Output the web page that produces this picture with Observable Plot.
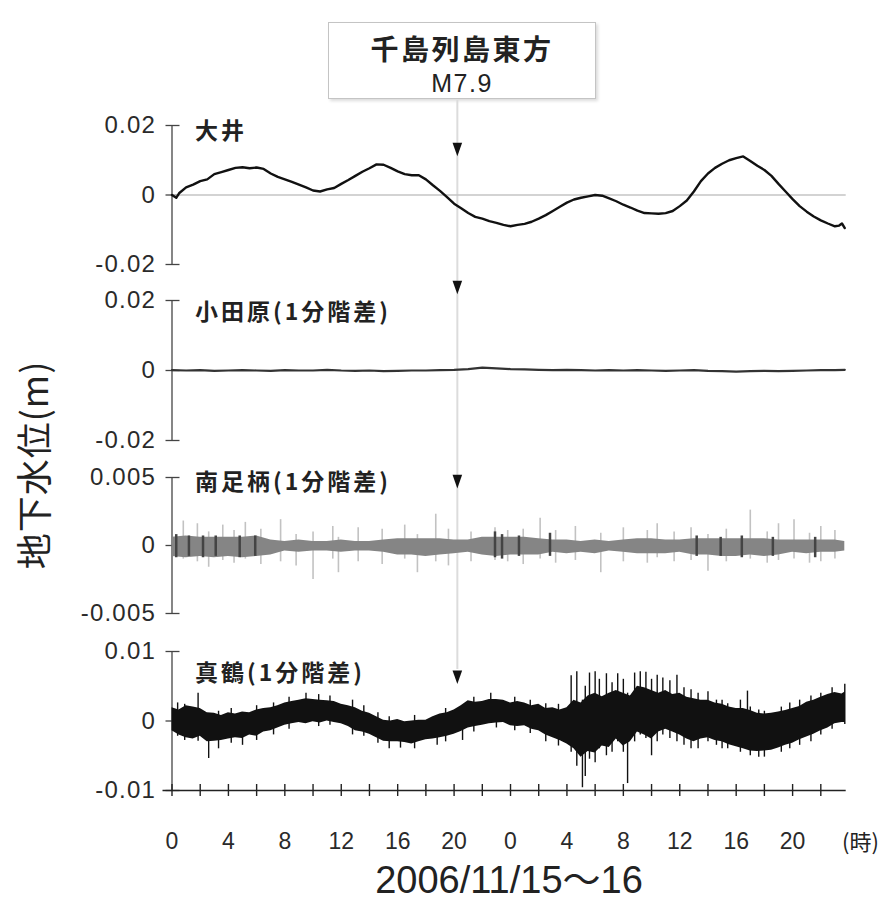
<!DOCTYPE html>
<html><head><meta charset="utf-8">
<script src="https://cdn.jsdelivr.net/npm/d3@7"></script>
<script src="https://cdn.jsdelivr.net/npm/@observablehq/plot@0.6"></script>
<style>
body{margin:0;background:#fff;}
#wrap{position:relative;width:889px;height:902px;overflow:hidden;font-family:'Liberation Sans','Noto Sans CJK JP',sans-serif;color:#222;}
.abs{position:absolute;left:0;}
g[aria-label="text"] text{letter-spacing:3px;}
g[aria-label="y-axis tick label"] text{letter-spacing:1.2px;}
</style></head><body>
<div id="wrap">
  <div id="box" style="position:absolute;left:328px;top:22px;width:266px;height:75px;border:1.5px solid #c4c4c4;box-shadow:2px 2px 3px #dcdcdc;background:#fff;">
    <div style="position:absolute;left:0;right:0;top:9px;text-align:center;font-family:'Noto Sans CJK JP',sans-serif;font-weight:bold;font-size:28px;line-height:32px;letter-spacing:2.5px;">千島列島東方</div>
    <div style="position:absolute;left:0;right:0;top:45px;text-align:center;font-family:'Liberation Sans',sans-serif;font-size:25px;line-height:30px;letter-spacing:1.5px;">M7.9</div>
  </div>
  <div id="p1" class="abs" style="top:100px"></div>
  <div id="p2" class="abs" style="top:280px"></div>
  <div id="p3" class="abs" style="top:458px"></div>
  <div id="p4" class="abs" style="top:633px"></div>
  <div id="ytitle" style="position:absolute;left:32px;top:465px;transform:translate(-50%,-50%) rotate(-90deg);white-space:nowrap;font-family:'Noto Sans CJK JP',sans-serif;font-size:36px;line-height:40px;letter-spacing:1px;">地下水位(m)</div>
  <div id="hourlabel" style="position:absolute;left:842px;top:826px;white-space:nowrap;font-family:'Noto Sans CJK JP',sans-serif;font-size:22px;line-height:28px;">(時)</div>
  <div id="datelabel" style="position:absolute;left:509px;top:880px;transform:translate(-50%,-50%);white-space:nowrap;font-family:'Liberation Sans','Noto Sans CJK JP',sans-serif;font-size:38px;line-height:38px;">2006/11/15〜16</div>
</div>
<script>
// ---------- data ----------
const eventHour = 20.23; // 2006/11/15 20:14
const xDomain = [0, 47.8];
const xLabelTicks = [0,4,8,12,16,20,24,28,32,36,40,44];
const xMinorTicks = [0,2,4,6,8,10,12,14,16,18,20,22,24,26,28,30,32,34,36,38,40,42,44,46];

const panelNames = ["大井", "小田原(1分階差)", "南足柄(1分階差)", "真鶴(1分階差)"];

// 大井
const oiHours = [0,0.3,0.5,1,1.5,2,2.5,3,3.5,4,4.5,5,5.5,6,6.5,7,7.5,8,8.5,9,9.5,10,10.5,11,11.5,12,12.5,13,13.5,14,14.5,15,15.5,16,16.5,17,17.5,18,18.5,19,19.5,20,20.5,21,21.5,22,22.5,23,23.5,24,24.5,25,25.5,26,26.5,27,27.5,28,28.5,29,29.5,30,30.5,31,31.5,32,32.5,33,33.5,34,34.5,35,35.5,36,36.5,37,37.5,38,38.5,39,39.5,40,40.5,41,41.5,42,42.5,43,43.5,44,44.5,45,45.5,46,46.5,47,47.3,47.5,47.7];
const oiLevel = [0.0000,-0.0008,0.0005,0.0022,0.0030,0.0040,0.0045,0.0060,0.0066,0.0072,0.0078,0.0080,0.0077,0.0079,0.0075,0.0062,0.0052,0.0045,0.0038,0.0030,0.0022,0.0013,0.0010,0.0016,0.0020,0.0032,0.0043,0.0055,0.0067,0.0077,0.0088,0.0087,0.0078,0.0068,0.0060,0.0057,0.0057,0.0045,0.0028,0.0012,-0.0006,-0.0025,-0.0038,-0.0052,-0.0063,-0.0068,-0.0075,-0.0080,-0.0086,-0.0090,-0.0086,-0.0083,-0.0077,-0.0068,-0.0058,-0.0046,-0.0034,-0.0022,-0.0013,-0.0008,-0.0004,0.0000,-0.0002,-0.0010,-0.0018,-0.0028,-0.0036,-0.0045,-0.0052,-0.0053,-0.0054,-0.0052,-0.0046,-0.0032,-0.0016,0.0010,0.0040,0.0062,0.0078,0.0090,0.0100,0.0106,0.0111,0.0098,0.0084,0.0072,0.0055,0.0032,0.0010,-0.0012,-0.0032,-0.0048,-0.0062,-0.0073,-0.0082,-0.0090,-0.0088,-0.0082,-0.0095];

// 小田原 (1分階差)
const odawaraHours = [0,1,2,3,4,5,6,7,8,9,10,11,12,13,14,15,16,17,18,19,20,21,22,23,24,25,26,27,28,29,30,31,32,33,34,35,36,37,38,39,40,41,42,43,44,45,46,47,47.7];
const odawaraLevel = [0.0001,0.0000,0.0001,-0.0001,0.0000,0.0001,0.0000,-0.0001,0.0001,0.0000,0.0000,0.0002,0.0000,-0.0001,0.0000,-0.0002,-0.0001,0.0000,0.0000,0.0001,0.0002,0.0004,0.0008,0.0006,0.0004,0.0003,0.0002,0.0001,0.0002,0.0001,0.0000,0.0001,0.0000,0.0001,0.0000,-0.0001,0.0000,0.0001,-0.0001,-0.0002,-0.0003,-0.0002,-0.0001,-0.0002,-0.0001,0.0000,0.0001,0.0001,0.0002];

// 南足柄 (1分階差): envelope of the 1-minute differences
const minamiHours = [0,1,2,3,4,5,6,7,8,9,10,11,12,13,14,15,16,17,18,19,20,21,22,23,24,25,26,27,28,29,30,31,32,33,34,35,36,37,38,39,40,41,42,43,44,45,46,47,47.7];
const minamiLow  = [-0.0008,-0.0009,-0.0008,-0.0009,-0.0008,-0.0009,-0.0008,-0.0007,-0.0004,-0.0005,-0.0004,-0.0004,-0.0005,-0.0004,-0.0004,-0.0005,-0.0007,-0.0007,-0.0008,-0.0007,-0.0006,-0.0005,-0.0007,-0.0008,-0.0007,-0.0007,-0.0007,-0.0005,-0.0006,-0.0005,-0.0006,-0.0004,-0.0005,-0.0006,-0.0006,-0.0006,-0.0005,-0.0007,-0.0007,-0.0008,-0.0008,-0.0007,-0.0008,-0.0007,-0.0005,-0.0006,-0.0005,-0.0005,-0.0004];
const minamiHigh = [0.0006,0.0007,0.0006,0.0006,0.0006,0.0006,0.0007,0.0004,0.0003,0.0004,0.0003,0.0003,0.0004,0.0003,0.0003,0.0004,0.0005,0.0005,0.0005,0.0005,0.0004,0.0004,0.0006,0.0006,0.0006,0.0006,0.0005,0.0004,0.0004,0.0003,0.0004,0.0003,0.0004,0.0005,0.0005,0.0004,0.0004,0.0005,0.0005,0.0005,0.0005,0.0005,0.0005,0.0004,0.0004,0.0004,0.0004,0.0004,0.0003];
const minamiSpikeHours = [0.8,1.8,2.6,3.6,4.4,5.2,6.3,7.7,8.8,10.0,11.4,11.8,13.2,14.9,16.5,17.4,18.7,19.6,21.2,22.9,23.8,24.9,26.1,27.2,28.6,30.4,32.0,33.7,34.4,35.6,36.8,38.0,39.3,41.0,42.2,43.0,44.1,45.2,46.0,47.0];
const minamiSpikeLow  = [-0.0010,-0.0012,-0.0016,-0.0011,-0.0013,-0.0010,-0.0014,-0.0012,-0.0015,-0.0025,-0.0010,-0.0020,-0.0012,-0.0014,-0.0010,-0.0020,-0.0012,-0.0015,-0.0012,-0.0011,-0.0012,-0.0014,-0.0010,-0.0013,-0.0011,-0.0020,-0.0012,-0.0013,-0.0009,-0.0012,-0.0011,-0.0019,-0.0012,-0.0010,-0.0013,-0.0011,-0.0010,-0.0013,-0.0012,-0.0010];
const minamiSpikeHigh = [0.0018,0.0016,0.0010,0.0015,0.0011,0.0017,0.0012,0.0019,0.0008,0.0010,0.0014,0.0006,0.0013,0.0012,0.0015,0.0008,0.0023,0.0012,0.0010,0.0013,0.0011,0.0012,0.0020,0.0011,0.0014,0.0009,0.0013,0.0011,0.0016,0.0010,0.0013,0.0008,0.0012,0.0026,0.0010,0.0016,0.0019,0.0009,0.0014,0.0011];
const minamiDarkHours = [0.3,1.2,2.2,3.1,4.8,5.9,22.9,23.4,24.6,26.8,37.2,38.9,40.4,42.6,45.6];
const minamiDarkLow  = [-0.0009,-0.0008,-0.0009,-0.0008,-0.0009,-0.0008,-0.0009,-0.0010,-0.0008,-0.0008,-0.0008,-0.0008,-0.0009,-0.0008,-0.0009];
const minamiDarkHigh = [0.0008,0.0007,0.0007,0.0007,0.0007,0.0007,0.0010,0.0008,0.0007,0.0009,0.0007,0.0006,0.0007,0.0006,0.0006];

// 真鶴 (1分階差): envelope of the 1-minute differences
const manazuruHours = [0,0.5,1,1.5,2,2.5,3,3.5,4,4.5,5,5.5,6,6.5,7,7.5,8,8.5,9,9.5,10,10.5,11,11.5,12,12.5,13,13.5,14,14.5,15,15.5,16,16.5,17,17.5,18,18.5,19,19.5,20,20.5,21,21.5,22,22.5,23,23.5,24,24.5,25,25.5,26,26.5,27,27.5,28,28.5,29,29.5,30,30.5,31,31.5,32,32.5,33,33.5,34,34.5,35,35.5,36,36.5,37,37.5,38,38.5,39,39.5,40,40.5,41,41.5,42,42.5,43,43.5,44,44.5,45,45.5,46,46.5,47,47.5,47.75];
const manazuruLow = [-0.0014,-0.0020,-0.0024,-0.0026,-0.0022,-0.0030,-0.0029,-0.0028,-0.0026,-0.0024,-0.0025,-0.0020,-0.0022,-0.0016,-0.0014,-0.0010,-0.0006,-0.0004,-0.0002,-0.0004,-0.0001,-0.0003,0.0000,-0.0002,-0.0004,-0.0008,-0.0014,-0.0016,-0.0019,-0.0024,-0.0029,-0.0030,-0.0030,-0.0031,-0.0033,-0.0030,-0.0027,-0.0026,-0.0024,-0.0022,-0.0019,-0.0015,-0.0010,-0.0008,-0.0006,-0.0004,-0.0003,-0.0002,-0.0007,-0.0008,-0.0007,-0.0012,-0.0014,-0.0020,-0.0024,-0.0028,-0.0033,-0.0040,-0.0052,-0.0044,-0.0046,-0.0036,-0.0038,-0.0026,-0.0036,-0.0030,-0.0016,-0.0020,-0.0026,-0.0016,-0.0012,-0.0016,-0.0020,-0.0026,-0.0030,-0.0026,-0.0024,-0.0028,-0.0030,-0.0034,-0.0037,-0.0040,-0.0043,-0.0044,-0.0043,-0.0042,-0.0039,-0.0035,-0.0032,-0.0027,-0.0023,-0.0019,-0.0014,-0.0010,-0.0004,-0.0002,-0.0002];
const manazuruHigh = [0.0019,0.0016,0.0022,0.0020,0.0018,0.0012,0.0011,0.0008,0.0012,0.0010,0.0013,0.0012,0.0016,0.0018,0.0019,0.0022,0.0026,0.0028,0.0030,0.0032,0.0031,0.0030,0.0029,0.0028,0.0024,0.0022,0.0019,0.0014,0.0011,0.0006,0.0001,0.0000,0.0002,-0.0001,0.0000,0.0001,0.0001,0.0006,0.0010,0.0012,0.0016,0.0022,0.0029,0.0027,0.0028,0.0031,0.0031,0.0030,0.0026,0.0028,0.0026,0.0022,0.0024,0.0018,0.0019,0.0016,0.0019,0.0030,0.0026,0.0036,0.0040,0.0035,0.0040,0.0044,0.0040,0.0036,0.0050,0.0048,0.0044,0.0040,0.0044,0.0038,0.0040,0.0034,0.0032,0.0030,0.0030,0.0026,0.0024,0.0020,0.0018,0.0018,0.0015,0.0011,0.0010,0.0011,0.0013,0.0015,0.0018,0.0021,0.0027,0.0030,0.0034,0.0038,0.0041,0.0039,0.0042];
const manazuruSpikeHours = [0.4,0.9,1.85,2.6,3.3,4.2,5.0,6.0,7.2,8.3,9.5,10.4,11.2,12.8,13.6,14.6,15.4,16.2,17.2,18.8,19.4,20.6,21.4,22.6,23.0,24.3,25.4,26.5,27.4,28.3,28.7,29.1,29.3,29.6,30.0,30.3,30.8,31.2,31.6,32.0,32.3,32.8,33.2,33.6,34.0,34.4,34.8,35.3,35.8,36.3,36.8,37.3,38.0,38.6,39.0,39.4,40.3,40.8,41.0,41.6,42.0,43.2,43.8,44.5,45.3,46.0,46.8,47.7];
const manazuruSpikeLow  = [-0.0022,-0.0028,-0.0029,-0.0054,-0.0040,-0.0032,-0.0035,-0.0028,-0.0020,-0.0012,-0.0003,-0.0008,-0.0006,-0.0020,-0.0022,-0.0032,-0.0040,-0.0039,-0.0040,-0.0035,-0.0030,-0.0028,-0.0016,0.0000,-0.0010,-0.0014,-0.0018,-0.0030,-0.0036,-0.0045,-0.0065,-0.0096,-0.0080,-0.0055,-0.0060,-0.0040,-0.0050,-0.0045,-0.0030,-0.0045,-0.0090,-0.0030,-0.0020,-0.0025,-0.0050,-0.0030,-0.0020,-0.0025,-0.0030,-0.0035,-0.0040,-0.0040,-0.0030,-0.0035,-0.0040,-0.0040,-0.0045,-0.0030,-0.0050,-0.0052,-0.0052,-0.0045,-0.0040,-0.0035,-0.0030,-0.0020,-0.0012,-0.0005];
const manazuruSpikeHigh = [0.0026,0.0024,0.0040,0.0010,0.0014,0.0018,0.0008,0.0022,0.0026,0.0034,0.0040,0.0038,0.0036,0.0030,0.0022,0.0012,0.0006,0.0000,0.0008,0.0008,0.0018,0.0010,0.0034,0.0040,0.0025,0.0034,0.0030,0.0025,0.0024,0.0065,0.0071,0.0030,0.0050,0.0069,0.0071,0.0060,0.0068,0.0055,0.0068,0.0060,0.0040,0.0069,0.0071,0.0070,0.0060,0.0066,0.0062,0.0058,0.0066,0.0048,0.0045,0.0040,0.0042,0.0030,0.0030,0.0025,0.0030,0.0043,0.0020,0.0016,0.0014,0.0020,0.0026,0.0030,0.0036,0.0040,0.0048,0.0053];

// y-axis settings per panel
const yDomains = [[-0.02, 0.02], [-0.02, 0.02], [-0.005, 0.005], [-0.01, 0.01]];
const yTickValues = [[-0.02, 0, 0.02], [-0.02, 0, 0.02], [-0.005, 0, 0.005], [-0.01, 0, 0.01]];
// where the earthquake arrow sits in each panel (data units)
const arrowLevels = [0.0131, 0.0237, 0.0047, 0.0063];

// ---------- drawing ----------
const zip = (xs, ...cols) => xs.map((h, i) => ({h, v: cols.map(c => c[i])}));

const tri = {
  draw(ctx, size) {
    const s = Math.sqrt(size / Math.PI);
    ctx.moveTo(-0.6 * s, -0.85 * s);
    ctx.lineTo(0.6 * s, -0.85 * s);
    ctx.lineTo(0, 0.85 * s);
    ctx.closePath();
  }
};

const font = "'Liberation Sans','Noto Sans CJK JP',sans-serif";
const base = {
  width: 889,
  marginLeft: 171.5,
  marginRight: 43.3,
  style: {fontFamily: font, fontSize: "23px", color: "#2a2a2a", background: "transparent", overflow: "visible"}
};

function yAxisMarks(k) {
  const d = yDomains[k];
  return [
    Plot.ruleX([0], {y1: d[0], y2: d[1], stroke: "#444", strokeWidth: 1.3}),
    Plot.ruleY(yTickValues[k], {x1: 0, x2: 0, insetLeft: -6, insetRight: -8, stroke: "#444", strokeWidth: 1.3}),
    Plot.axisY({ticks: yTickValues[k], tickSize: 0, tickPadding: 16, tickFormat: v => String(v), fontSize: 24, label: null})
  ];
}

function panel(k, {height, mt, mb, labelDy, data, extra = [], eventInsetBottom, xOpts}) {
  return Plot.plot({
    ...base,
    height, marginTop: mt, marginBottom: mb,
    x: xOpts ?? {domain: xDomain, axis: null},
    y: {domain: yDomains[k]},
    marks: [
      Plot.ruleX([eventHour], {stroke: "#dcdcdc", strokeWidth: 2, insetTop: -mt, insetBottom: eventInsetBottom ?? -mb}),
      ...yAxisMarks(k),
      ...data,
      Plot.text([panelNames[k]], {text: d => d, frameAnchor: "top-left", textAnchor: "start", lineAnchor: "middle",
        dx: 23, dy: labelDy, fontSize: 23, fontWeight: "bold", fontFamily: "'Noto Sans CJK JP',sans-serif", fill: "#222"}),
      Plot.dot([arrowLevels[k]], {x: eventHour, y: d => d, symbol: tri, r: 8, fill: "#111", stroke: "none"}),
      ...extra
    ]
  });
}

const oi = zip(oiHours, oiLevel);
const oda = zip(odawaraHours, odawaraLevel);
const minami = zip(minamiHours, minamiLow, minamiHigh);
const minamiSp = zip(minamiSpikeHours, minamiSpikeLow, minamiSpikeHigh);
const minamiDk = zip(minamiDarkHours, minamiDarkLow, minamiDarkHigh);
const mana = zip(manazuruHours, manazuruLow, manazuruHigh);
const manaSp = zip(manazuruSpikeHours, manazuruSpikeLow, manazuruSpikeHigh);

const p1 = panel(0, {height: 180, mt: 25, mb: 16, labelDy: 6, data: [
  Plot.ruleY([0], {x1: 0, x2: xDomain[1], stroke: "#c4c4c4", strokeWidth: 1.3}),
  Plot.line(oi, {x: "h", y: d => d.v[0], stroke: "#111", strokeWidth: 2.4, strokeLinejoin: "round"})
]});

const p2 = panel(1, {height: 178, mt: 20, mb: 18, labelDy: 12, data: [
  Plot.line(oda, {x: "h", y: d => d.v[0], stroke: "#333", strokeWidth: 2.2})
]});

const p3 = panel(2, {height: 175, mt: 19, mb: 20, labelDy: 5, data: [
  Plot.ruleX(minamiSp, {x: "h", y1: d => d.v[0], y2: d => d.v[1], stroke: "#c2c2c2", strokeWidth: 1.6}),
  Plot.areaY(minami, {x: "h", y1: d => d.v[0], y2: d => d.v[1], fill: "#858585"}),
  Plot.ruleX(minamiDk, {x: "h", y1: d => d.v[0], y2: d => d.v[1], stroke: "#444", strokeWidth: 2.5})
]});

const p4 = panel(3, {height: 269, mt: 18, mb: 112, labelDy: 22, eventInsetBottom: 121,
  xOpts: {domain: xDomain},
  data: [
    Plot.ruleX(manaSp, {x: "h", y1: d => d.v[0], y2: d => d.v[1], stroke: "#111", strokeWidth: 1.4}),
    Plot.areaY(mana, {x: "h", y1: d => d.v[0], y2: d => d.v[1], fill: "#111"})
  ],
  extra: [
    Plot.ruleY([-0.01], {x1: 0, x2: xDomain[1], insetLeft: -9, stroke: "#222", strokeWidth: 1.6}),
    Plot.ruleX(xMinorTicks, {y1: -0.01, y2: -0.01, insetTop: -6, insetBottom: -6, stroke: "#222", strokeWidth: 1.4}),
    Plot.axisX({ticks: xLabelTicks, tickSize: 0, tickPadding: 42, tickFormat: v => String(v % 24), fontSize: 23, label: null})
  ]
});

document.getElementById("p1").append(p1);
document.getElementById("p2").append(p2);
document.getElementById("p3").append(p3);
document.getElementById("p4").append(p4);
</script>
</body></html>
